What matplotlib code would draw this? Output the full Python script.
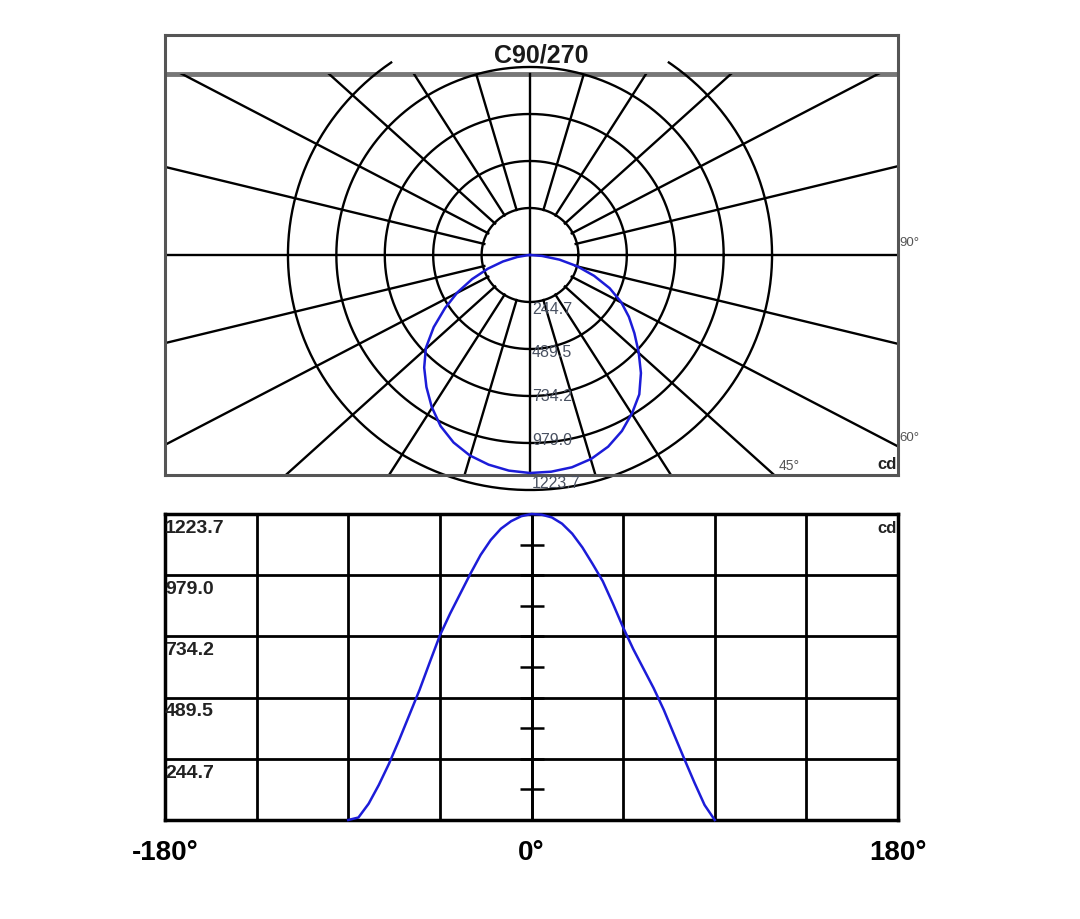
import numpy as np
import matplotlib.pyplot as plt
from matplotlib.patches import Rectangle
from matplotlib.ticker import FixedLocator

plt.rcParams['font.family'] = ['Liberation Sans', 'DejaVu Sans']

# 配光数据 C90/270 (gamma角, cd)
angles = [-90, -85, -80, -75, -70, -65, -60, -55, -50, -45, -40, -35, -30, -25, -20, -15, -10, -5,
          0, 5, 10, 15, 20, 25, 30, 35, 40, 45, 50, 55, 60, 65, 70, 75, 80, 85, 90]
intensity = [0, 10, 65, 140, 225, 320, 420, 520, 630, 738, 825, 905, 985, 1060, 1120, 1165, 1195, 1215,
             1223.7, 1221, 1210, 1185, 1145, 1090, 1024, 955, 865, 770, 683, 605, 527, 440, 342, 245, 150, 60, 0]
ring_vals = [244.7, 489.5, 734.2, 979.0, 1223.7]
ring_labels = ['244.7', '489.5', '734.2', '979.0', '1223.7']
gammas = [15, 30, 45, 60, 75, 105, 120, 135, 150, 165]
title = 'C90/270'
x_labels = ['-180°', '', '', '', '0°', '', '', '', '180°']

W, H = 1080, 920
fig = plt.figure(figsize=(W / 100, H / 100), dpi=100)

# ---------------- 上图：极坐标配光曲线 ----------------
k = 218 / 1223.7          # 像素 / cd
sx_spoke = 1.11           # 放射线横向拉伸
sx_ring = 1.03
sx_curve = 1.12
ax1 = fig.add_axes([165 / W, 1 - 476 / H, 733 / W, 440 / H])
ax1.set_xlim(-365 / k, 368 / k)
ax1.set_ylim(-220 / k, 220 / k)
ax1.set_xticks([])
ax1.set_yticks([])
for s in ax1.spines.values():
    s.set_color('#555555')
    s.set_linewidth(2.2)

y_title = 181 / k          # 标题栏下边线
y_clip = 193 / k           # 圆弧上端裁剪
ax1.axhline(y_title, color='#777777', lw=3.5)
ax1.plot([0, 0], [-220 / k, y_title], color='black', lw=1.7)
ax1.axhline(0, color='black', lw=1.7)

ring_r = [v * 1.078 for v in ring_vals]
t = np.linspace(0, 2 * np.pi, 721)
for r in ring_r:
    xc = sx_ring * r * np.cos(t)
    yc = r * np.sin(t)
    yc = np.where(yc > y_clip, np.nan, yc)
    ax1.plot(xc, yc, color='black', lw=1.7, clip_on=False)

clip = Rectangle((-365 / k, -220 / k), 733 / k, y_title + 220 / k, transform=ax1.transData)
for g in gammas:
    for sgn in (1, -1):
        a = np.radians(g)
        d = np.array([sgn * sx_spoke * np.sin(a), -np.cos(a)])
        d = d / np.hypot(*d)
        p0 = d * ring_r[0]
        p1 = d * 3000
        ln, = ax1.plot([p0[0], p1[0]], [p0[1], p1[1]], color='black', lw=1.7)
        ln.set_clip_path(clip)

ga = np.radians(angles)
ia = np.array(intensity)
ax1.plot(sx_curve * ia * np.sin(ga), -ia * np.cos(ga), color='#1c1cd8', lw=1.8, zorder=5)

for v, lab in zip(ring_vals, ring_labels):
    ax1.annotate(lab, xy=(0, -v), xytext=(1.5, -7), textcoords='offset points',
                 ha='left', va='center', fontsize=11.5, color='#4a5262', annotation_clip=False)

ax1.text((541 - 165) / 733, 0.955, title, transform=ax1.transAxes, ha='center', va='center',
         fontsize=18, fontweight='bold', color='#1a1a1a')
ax1.annotate('90°', xy=(1, 0.5), xycoords='axes fraction', xytext=(1, 9), textcoords='offset points',
             ha='left', va='center', fontsize=9.5, color='#555555', annotation_clip=False)
ax1.annotate('60°', xy=(1, 0.5 - 190 / 440), xycoords='axes fraction', xytext=(1, 6),
             textcoords='offset points', ha='left', va='center', fontsize=9.5, color='#555555',
             annotation_clip=False)
ax1.annotate('45°', xy=((365 + 244) / 733, 0), xycoords='axes fraction', xytext=(11, 7),
             textcoords='offset points', ha='center', va='center', fontsize=10, color='#555555')
ax1.text(0.998, 0.025, 'cd', transform=ax1.transAxes, ha='right', va='center',
         fontsize=12, fontweight='bold', color='#222222')

# ---------------- 下图：直角坐标配光曲线 ----------------
ax2 = fig.add_axes([165 / W, 1 - 821 / H, 733 / W, 306 / H])
ax2.plot(angles, intensity, color='#1c1cd8', lw=1.8, zorder=5, clip_on=False)
ax2.set_xlim(-180, 180)
ax2.set_ylim(0, 1223.7)
ax2.set_xticks(np.arange(-180, 181, 45))
ax2.set_xticklabels(x_labels, fontsize=20, fontweight='bold')
ax2.set_yticks([0] + ring_vals)
ax2.grid(True, color='black', lw=2)
ax2.tick_params(length=0, labelleft=False, pad=14)
for s in ax2.spines.values():
    s.set_linewidth(2.5)

sec = ax2.secondary_yaxis(0.5)
sec.set_yticks(ring_vals[:-1])
sec.yaxis.set_minor_locator(FixedLocator([v - 122.37 for v in ring_vals]))
sec.tick_params(which='both', direction='inout', length=17, width=1.8, labelleft=False, labelright=False)
sec.spines['left'].set_linewidth(2)
sec.spines['right'].set_linewidth(2)

for v, lab in zip(ring_vals, ring_labels):
    ax2.annotate(lab, xy=(-180, v), xytext=(0, -3.5), textcoords='offset points',
                 ha='left', va='top', fontsize=14, fontweight='bold', color='#222222')
ax2.text(0.998, 0.955, 'cd', transform=ax2.transAxes, ha='right', va='center',
         fontsize=12, fontweight='bold', color='#222222')

fig.savefig('out.png', dpi=100)
